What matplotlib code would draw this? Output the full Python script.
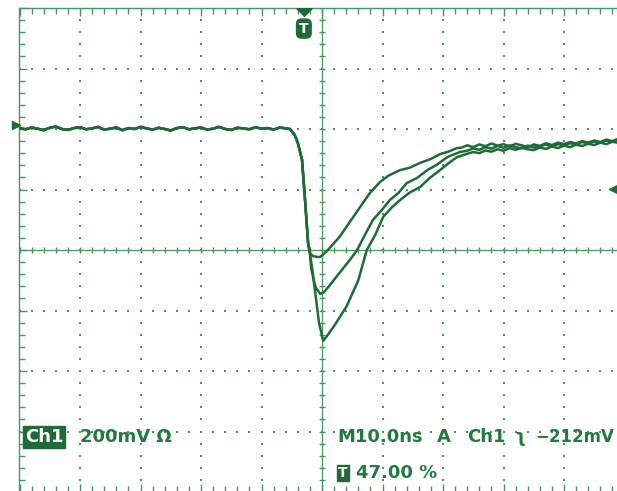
import matplotlib
matplotlib.use("Agg")
import matplotlib.pyplot as plt
import numpy as np
from matplotlib.path import Path

# scope settings: 10 ns/div, 200 mV/div, 10 x 8 divisions, screen centre = (0 ns, 0 mV)
ns_per_div = 10
mv_per_div = 200

# shared noisy baseline before the edge (t in ns, v in mV)
base_t = [-50, -49, -48, -47, -46, -45, -44, -43, -42, -41, -40, -39, -38, -37, -36,
          -35, -34, -33, -32, -31, -30, -29, -28, -27, -26, -25, -24, -23, -22, -21,
          -20, -19, -18, -17, -16, -15, -14, -13, -12, -11, -10, -9, -8, -7, -6]
base_v = [403, 399, 405, 401, 396, 404, 408, 400, 397, 403, 406, 399, 402, 407, 398,
          401, 405, 396, 403, 400, 407, 402, 398, 404, 400, 395, 403, 406, 399, 402,
          405, 398, 401, 407, 400, 397, 404, 402, 399, 406, 401, 403, 398, 405, 402]

# common falling edge
edge_t = [-5.3, -4.5, -4.0, -3.3, -2.8, -2.3, -2.0]
edge_v = [400, 380, 354, 298, 165, 23, -10]

# the three traces after the edge
tr1_t = [-1.5, -0.8, -0.3, 0.3, 1.3, 3.0, 4.6, 6.3, 7.9, 9.6, 11.0, 12.9, 14.5, 16.2,
         18.0, 19.5, 21.0, 22.3, 23, 24, 25, 26, 27, 28, 29, 30, 31, 32, 33, 34, 35,
         36, 37, 38, 39, 40, 41, 42, 43, 44, 45, 46, 47, 48, 49, 50]
tr1_v = [-20, -23, -23, -13, 7, 46, 93, 142, 188, 225, 246, 264, 272, 288,
         301, 317, 326, 337, 338, 346, 340, 349, 343, 352, 345, 350, 342, 351, 346,
         340, 349, 344, 353, 347, 355, 350, 357, 352, 360, 355, 362, 357, 365, 360,
         368, 364]

tr2_t = [-1.8, -1.3, -1.0, -0.3, 0.3, 1.3, 3.0, 4.6, 5.8, 7.1, 8.4, 9.8, 11.2, 12.6,
         14.0, 15.7, 17.4, 19.0, 20.7, 22.8, 24, 25, 26, 27, 28, 29, 30, 31, 32, 33,
         34, 35, 36, 37, 38, 39, 40, 41, 42, 43, 44, 45, 46, 47, 48, 49, 50]
tr2_v = [-60, -105, -125, -145, -140, -116, -73, -33, 0, 50, 99, 130, 165, 188,
         221, 238, 264, 282, 307, 324, 328, 336, 331, 340, 335, 344, 338, 346, 340,
         336, 345, 339, 343, 349, 342, 350, 346, 353, 349, 357, 352, 359, 355, 362,
         358, 365, 361]

tr3_t = [-1.5, -1.0, -0.5, 0.2, 0.8, 2.2, 4.1, 6.0, 7.4, 8.8, 10.1, 11.5, 12.9, 14.5,
         16.2, 17.8, 19.5, 21.0, 22.3, 24, 25, 26, 27, 28, 29, 30, 31, 32, 33, 34, 35,
         36, 37, 38, 39, 40, 41, 42, 43, 44, 45, 46, 47, 48, 49, 50]
tr3_v = [-80, -160, -240, -300, -285, -245, -185, -100, 0, 50, 109, 140, 165, 190,
         208, 238, 264, 288, 307, 318, 324, 320, 329, 325, 333, 328, 337, 331, 338,
         333, 330, 339, 334, 342, 337, 345, 340, 348, 344, 351, 347, 355, 350, 358,
         354, 361]

traces = [(tr1_t, tr1_v), (tr2_t, tr2_v), (tr3_t, tr3_v)]

# readout text
ch_label = "Ch1"
scale_text = "200mV \u03a9"
time_text = "M10.0ns"
src_text = ["A", "Ch1", "\u0285"]
level_text = "\u2212212mV"
trig_pos_text = "47.00 %"
trig_pos_ns = -3.0
trig_level_mv = 201
ground_mv = 413

green = "#1f6b38"
grid_green = "#4a9462"
text_green = "#237a3e"

W, H = 617, 491
fig = plt.figure(figsize=(W / 100, H / 100), dpi=100)
fig.patch.set_facecolor("white")
ax = fig.add_axes([19.5 / W, (H - 492) / H, 605 / W, 484 / H])
ax.set_xlim(-5 * ns_per_div, 5 * ns_per_div)
ax.set_ylim(-4 * mv_per_div, 4 * mv_per_div)

# graticule: dotted division lines
minor_x = np.arange(-50, 50.01, 2)
minor_y = np.arange(-800, 800.01, 40)
for gx in np.arange(-40, 41, 10):
    if gx != 0:
        ax.scatter(np.full(len(minor_y), gx), minor_y, s=2.5, marker="s",
                   color=grid_green, linewidths=0, zorder=1)
for gy in np.arange(-600, 601, 200):
    if gy != 0:
        ax.scatter(minor_x, np.full(len(minor_x), gy), s=2.5, marker="s",
                   color=grid_green, linewidths=0, zorder=1)

# centre crosshair with minor ticks
ax.axhline(0, color=grid_green, lw=0.9, zorder=1)
ax.axvline(0, color=grid_green, lw=0.9, zorder=1)
ax.plot(minor_x, np.zeros(len(minor_x)), ls="none", marker="|", ms=5,
        mew=1.0, color=grid_green, zorder=1)
ax.plot(np.zeros(len(minor_y)), minor_y, ls="none", marker="_", ms=5,
        mew=1.0, color=grid_green, zorder=1)

# border ticks
ax.set_xticks(np.arange(-50, 51, 10))
ax.set_yticks(np.arange(-800, 801, 200))
ax.set_xticks(minor_x, minor=True)
ax.set_yticks(minor_y, minor=True)
ax.tick_params(which="both", direction="in", top=True, right=True,
               labelbottom=False, labelleft=False, color=grid_green, width=1.0)
ax.tick_params(which="major", length=6)
ax.tick_params(which="minor", length=4)
for sp in ax.spines.values():
    sp.set_color(grid_green)
    sp.set_linewidth(1.0)

# waveforms
for tt, vv in traces:
    ax.plot(base_t + edge_t + tt, base_v + edge_v + vv, color=green, lw=1.8,
            zorder=3, solid_joinstyle="round")

# markers: trigger position, ground level, trigger level
flat_tri = Path([(-1, 0.5), (1, 0.5), (0, -0.5), (-1, 0.5)])
ax.plot([trig_pos_ns], [788], marker=flat_tri, ms=11, color=green,
        clip_on=False, zorder=6)
ax.plot([-50.6], [ground_mv], marker=">", ms=6, color=green, clip_on=False, zorder=4)
ax.plot([48.6], [trig_level_mv], marker="<", ms=10, color=green, clip_on=False, zorder=4)
ax.text(trig_pos_ns, 732, "T", color="white", fontsize=10, fontweight="bold",
        ha="center", va="center", zorder=5,
        bbox=dict(boxstyle="round,pad=0.18,rounding_size=0.35", fc=green, ec=green))


def px(x, y):
    return x / W, 1 - y / H


fs = 13
fig.text(*px(25, 437), ch_label, color="white", fontsize=fs, fontweight="bold",
         ha="left", va="center",
         bbox=dict(boxstyle="square,pad=0.1", fc=green, ec=green))
fig.text(*px(80, 437), scale_text, color=text_green, fontsize=fs,
         fontweight="bold", ha="left", va="center")
fig.text(*px(337, 437), time_text, color=text_green, fontsize=fs,
         fontweight="bold", ha="left", va="center")
for s, x0 in zip(src_text, [437, 467, 514]):
    fig.text(*px(x0, 437), s, color=text_green, fontsize=fs,
             fontweight="bold", ha="left", va="center")
fig.text(*px(535, 437), level_text, color=text_green, fontsize=12,
         fontweight="bold", ha="left", va="center")
fig.text(*px(338, 473), "T", color="white", fontsize=10, fontweight="bold",
         ha="left", va="center",
         bbox=dict(boxstyle="square,pad=0.1", fc=green, ec=green))
fig.text(*px(356, 473), trig_pos_text, color=text_green, fontsize=fs,
         fontweight="bold", ha="left", va="center")

fig.savefig("out.png", dpi=100, facecolor="white")
plt.close(fig)
